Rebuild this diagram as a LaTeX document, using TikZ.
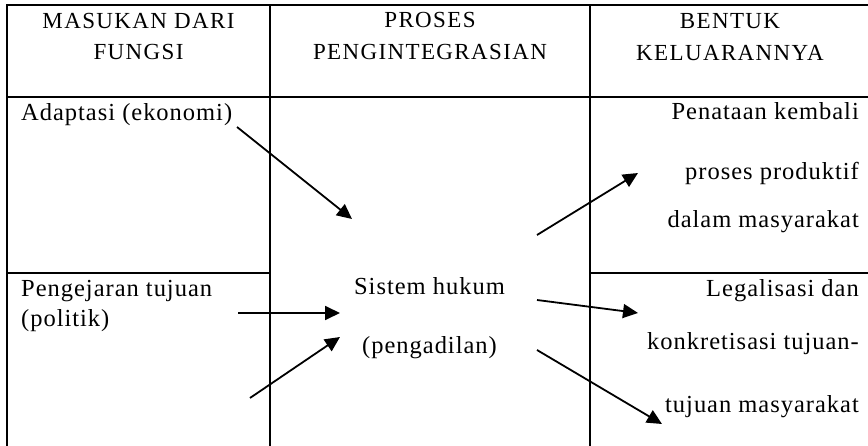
\documentclass[tikz,border=0pt]{standalone}
\usepackage{fontspec}
\setmainfont{Liberation Serif}[LetterSpace=6]
\newfontfamily\bodyfont{Liberation Serif}[LetterSpace=4]
\usetikzlibrary{arrows.meta}
\tikzset{
  grid/.style={line width=2.6pt, line cap=rect},
  txt/.style={inner sep=0pt, font=\fontsize{23}{27}\selectfont},
  btxt/.style={inner sep=0pt, font=\bodyfont\fontsize{24.5}{28}\selectfont},
  conn/.style={line width=1.8pt, -{Triangle[length=15pt,width=14pt]}},
}
\begin{document}
\begin{tikzpicture}[x=1pt,y=-1pt]
\useasboundingbox (0,0) rectangle (868,446);
% table lines
\draw[grid] (7,5) -- (875,5);
\draw[grid] (7,97) -- (875,97);
\draw[grid] (7,273) -- (270,273);
\draw[grid] (590,273) -- (875,273);
\draw[grid] (7,5) -- (7,450);
\draw[grid] (270,5) -- (270,450);
\draw[grid] (590,5) -- (590,450);
% headers
\node[txt, anchor=base] (h1a) at (138.5,29) {MASUKAN DARI};
\node[txt, anchor=base] (h1b) at (138.5,60) {FUNGSI};
\node[txt, anchor=base] (h2a) at (430,28) {PROSES};
\node[txt, anchor=base] (h2b) at (430,60) {PENGINTEGRASIAN};
\node[txt, anchor=base] (h3a) at (730,29) {BENTUK};
\node[txt, anchor=base] (h3b) at (730,61) {KELUARANNYA};
% left column
\node[btxt, anchor=base west] (ad) at (21,121) {Adaptasi (ekonomi)};
\node[btxt, anchor=base west] (pg1) at (21,297) {Pengejaran tujuan};
\node[btxt, anchor=base west] (pg2) at (21,327) {(politik)};
% middle
\node[btxt, anchor=base] (sh) at (429.5,295) {Sistem hukum};
\node[btxt, anchor=base] (pd) at (429.5,354) {(pengadilan)};
% right column
\node[btxt, anchor=base east] (r1) at (859,120) {Penataan kembali};
\node[btxt, anchor=base east] (r2) at (859,180) {proses produktif};
\node[btxt, anchor=base east] (r3) at (859,228) {dalam masyarakat};
\node[btxt, anchor=base east] (r4) at (859,297) {Legalisasi dan};
\node[btxt, anchor=base east] (r5) at (859,350) {konkretisasi tujuan-};
\node[btxt, anchor=base east] (r6) at (859,413) {tujuan masyarakat};
% connector ends
\coordinate (a1s) at (237,127);
\coordinate (a1e) at (352,219);
\coordinate (a2s) at (238,313);
\coordinate (a2e) at (340,313);
\coordinate (a3s) at (250,398);
\coordinate (a3e) at (340,337);
\coordinate (b1s) at (537,235);
\coordinate (b1e) at (638,173);
\coordinate (b2s) at (537,300);
\coordinate (b2e) at (638,313);
\coordinate (b3s) at (537,350);
\coordinate (b3e) at (662,424);
\draw[conn] (a1s) -- (a1e);
\draw[conn] (a2s) -- (a2e);
\draw[conn] (a3s) -- (a3e);
\draw[conn] (b1s) -- (b1e);
\draw[conn] (b2s) -- (b2e);
\draw[conn] (b3s) -- (b3e);
\end{tikzpicture}
\end{document}
